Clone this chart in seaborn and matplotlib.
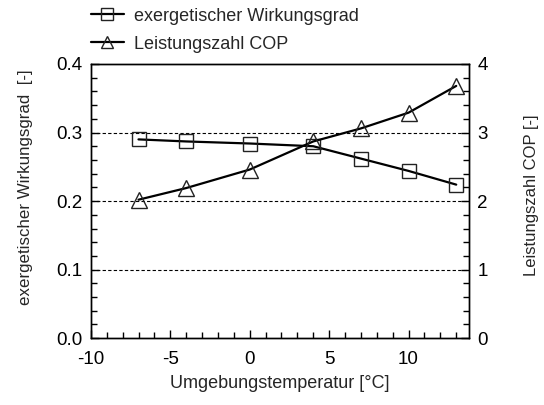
import matplotlib
matplotlib.use("Agg")
import matplotlib.pyplot as plt
from matplotlib.ticker import MultipleLocator, FormatStrFormatter
import seaborn as sns
import pandas as pd

# Measured operating points
temperatur = [-7, -4, 0, 4, 7, 10, 13]
wirkungsgrad = [0.290, 0.287, 0.284, 0.280, 0.262, 0.244, 0.224]
cop = [2.02, 2.19, 2.46, 2.87, 3.06, 3.29, 3.68]

label_eta = "exergetischer Wirkungsgrad"
label_cop = "Leistungszahl COP"

sns.set_style("ticks")
plt.rcParams["font.family"] = ["Liberation Sans", "DejaVu Sans"]
plt.rcParams["font.size"] = 12
plt.rcParams["axes.unicode_minus"] = False

df = pd.DataFrame({"T": temperatur, "eta": wirkungsgrad, "cop": cop})

fig = plt.figure(figsize=(5.44, 4.05), dpi=100)
ax = fig.add_axes([0.167, 0.165, 0.695, 0.677])
ax2 = ax.twinx()

sns.lineplot(data=df, x="T", y="eta", ax=ax, color="black", lw=1.6,
             marker="s", markersize=10, markerfacecolor="none",
             markeredgecolor="#222222", markeredgewidth=1.0, label=label_eta,
             legend=False)
sns.lineplot(data=df, x="T", y="cop", ax=ax2, color="black", lw=1.6,
             marker="^", markersize=11, markerfacecolor="none",
             markeredgecolor="#222222", markeredgewidth=1.0, label=label_cop,
             legend=False)

ax.set_xlim(-10, 13.8)
ax.set_ylim(0, 0.4)
ax2.set_ylim(0, 4)

for y in (0.1, 0.2, 0.3):
    ax.axhline(y, color="black", lw=0.8, ls=(0, (3, 2)), zorder=0)

ax.xaxis.set_major_locator(MultipleLocator(5))
ax.xaxis.set_minor_locator(MultipleLocator(1))
ax.yaxis.set_major_locator(MultipleLocator(0.1))
ax.yaxis.set_minor_locator(MultipleLocator(0.02))
ax2.yaxis.set_major_locator(MultipleLocator(1))
ax2.yaxis.set_minor_locator(MultipleLocator(0.2))
ax.yaxis.set_major_formatter(FormatStrFormatter("%.1f"))

ax.tick_params(axis="both", which="both", direction="in", top=False, right=False,
               colors="black", labelsize=13.5, pad=6)
ax.tick_params(axis="x", which="both", pad=9)
ax.tick_params(which="major", length=6, width=1)
ax.tick_params(which="minor", length=4, width=1)
ax2.tick_params(axis="y", which="both", direction="in", colors="black",
                labelsize=13.5, pad=6)
ax2.tick_params(which="major", length=6, width=1)
ax2.tick_params(which="minor", length=4, width=1)

for a in (ax, ax2):
    for s in a.spines.values():
        s.set_color("black")
        s.set_linewidth(1.0)

ax.set_xlabel("Umgebungstemperatur [°C]", fontsize=13)
ax.xaxis.set_label_coords(0.5, -0.135)
ax.set_ylabel("exergetischer Wirkungsgrad  [-]", fontsize=12.2)
ax.yaxis.set_label_coords(-0.153, 0.551)
ax2.set_ylabel("Leistungszahl COP [-]", fontsize=12)
ax2.yaxis.set_label_coords(1.146, 0.522)

h1, l1 = ax.get_legend_handles_labels()
h2, l2 = ax2.get_legend_handles_labels()
fig.legend(h1 + h2, l1 + l2, loc="upper left", bbox_to_anchor=(0.146, 1.01),
           frameon=False, handlelength=1.8, handletextpad=0.55, labelspacing=0.6,
           fontsize=13, markerscale=0.8, borderaxespad=0.25)

fig.savefig("out.png", dpi=100)
